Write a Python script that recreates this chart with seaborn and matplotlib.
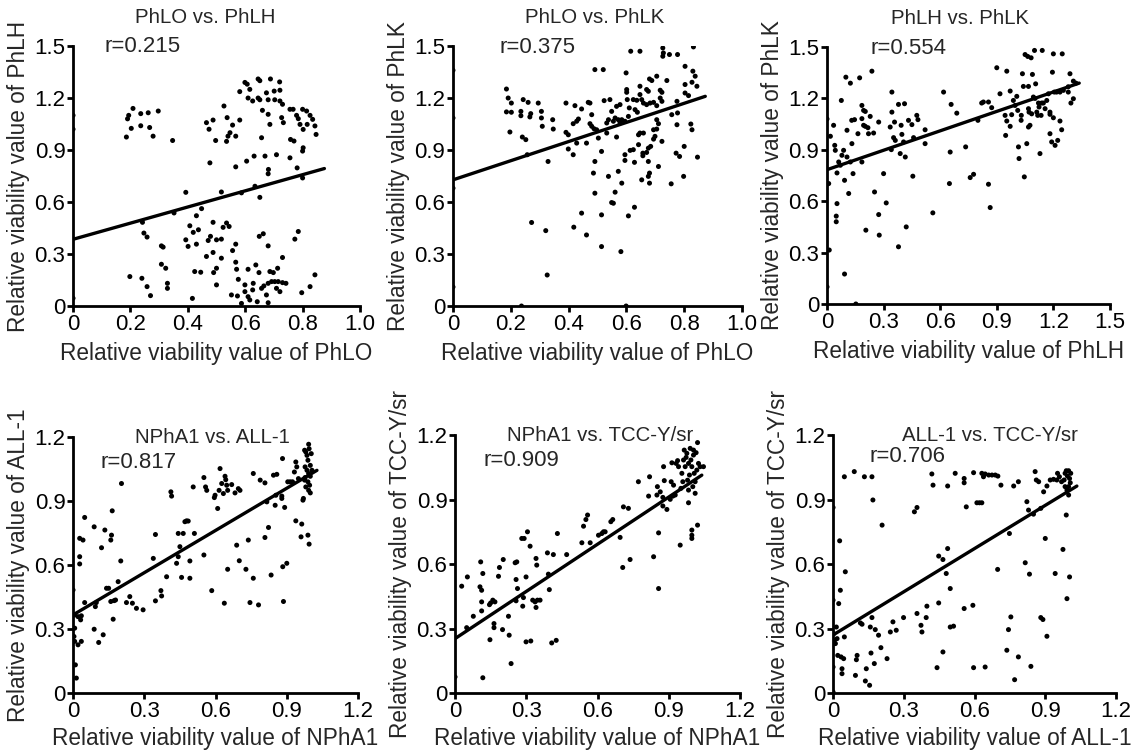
import numpy as np
import pandas as pd
import matplotlib
matplotlib.use("Agg")
import matplotlib.pyplot as plt
import seaborn as sns

sns.set_style("ticks")
plt.rcParams["font.family"] = ["Liberation Sans", "DejaVu Sans"]

# ---- data ----
titles = ["PhLO vs. PhLH", "PhLO vs. PhLK", "PhLH vs. PhLK",
          "NPhA1 vs. ALL-1", "NPhA1 vs. TCC-Y/sr", "ALL-1 vs. TCC-Y/sr"]
r_values = ["r=0.215", "r=0.375", "r=0.554", "r=0.817", "r=0.909", "r=0.706"]
xlabels = ["PhLO", "PhLO", "PhLH", "NPhA1", "NPhA1", "ALL-1"]
ylabels = ["PhLH", "PhLK", "PhLK", "ALL-1", "TCC-Y/sr", "TCC-Y/sr"]

# regression lines: intercept, slope, x end
line_b = [0.385, 0.728, 0.784, 0.366, 0.253, 0.27]
line_m = [0.466, 0.552, 0.378, 0.66, 0.732, 0.67]
line_xend = [0.876, 0.873, 1.337, 1.027, 1.039, 1.034]

xticks_top = [0, 0.2, 0.4, 0.6, 0.8, 1.0]
xtick_labels_top = ["0", "0.2", "0.4", "0.6", "0.8", "1.0"]
ticks_15 = [0, 0.3, 0.6, 0.9, 1.2, 1.5]
tick_labels_15 = ["0", "0.3", "0.6", "0.9", "1.2", "1.5"]
ticks_12 = [0, 0.3, 0.6, 0.9, 1.2]
tick_labels_12 = ["0", "0.3", "0.6", "0.9", "1.2"]

p1_x = [0.0, 0.0, 0.0, 0.186, 0.19, 0.194, 0.209, 0.203, 0.236, 0.236, 0.262, 0.267, 0.279, 0.297, 0.347,
        0.465, 0.474, 0.488, 0.497, 0.477, 0.526, 0.537, 0.556, 0.547, 0.54, 0.535, 0.567, 0.581, 0.567,
        0.605, 0.631, 0.669, 0.709, 0.657, 0.681, 0.68,
        0.599, 0.607, 0.581, 0.616, 0.61, 0.626, 0.645, 0.651, 0.688, 0.72, 0.645, 0.651, 0.674, 0.68,
        0.701, 0.721, 0.703, 0.721, 0.73, 0.66, 0.68, 0.686, 0.727, 0.733, 0.756, 0.767, 0.779, 0.785,
        0.8, 0.814, 0.826, 0.835, 0.816, 0.843, 0.847, 0.802, 0.791, 0.758, 0.77, 0.802, 0.8, 0.756,
        0.781, 0.8,
        0.393, 0.517, 0.587, 0.634, 0.651, 0.242, 0.352, 0.43, 0.448, 0.247, 0.258, 0.308, 0.314, 0.308,
        0.323, 0.407, 0.419, 0.437, 0.393, 0.401, 0.43, 0.488, 0.471, 0.479, 0.5, 0.517, 0.523, 0.535,
        0.544, 0.567, 0.556, 0.465, 0.488, 0.517, 0.5, 0.49, 0.424, 0.445, 0.567, 0.57, 0.5, 0.576,
        0.552, 0.573, 0.587, 0.599, 0.599, 0.61, 0.616, 0.626, 0.628, 0.642, 0.61, 0.637, 0.648, 0.649,
        0.663, 0.68, 0.657, 0.665, 0.68, 0.674, 0.68, 0.686, 0.698, 0.713, 0.73, 0.692, 0.703, 0.715,
        0.73, 0.742, 0.709, 0.721, 0.773, 0.785, 0.843, 0.826, 0.797, 0.198, 0.24, 0.258, 0.27, 0.329,
        0.329, 0.416]
p1_y = [1.1, 1.02, 0.045, 0.975, 1.08, 1.1, 1.14, 1.025, 1.11, 1.04, 1.115, 1.03, 0.98, 1.125, 0.955,
        1.058, 1.02, 1.073, 0.955, 0.826, 1.154, 1.087, 1.044, 1.0, 0.98, 0.95, 0.98, 1.073, 0.803,
        0.836, 0.865, 0.865, 0.873, 0.971, 0.788, 0.763,
        1.29, 1.28, 1.237, 1.25, 1.2, 1.183, 1.31, 1.3, 1.31, 1.293, 1.2, 1.19, 1.23, 1.19,
        1.24, 1.245, 1.19, 1.183, 1.164, 1.129, 1.106, 1.048, 1.087, 1.058, 1.135, 1.135, 1.1, 1.081,
        1.135, 1.125, 1.1, 1.077, 1.048, 1.039, 0.99, 1.019, 1.048, 0.961, 0.952, 0.913, 0.894, 0.855,
        0.797, 0.739,
        0.656, 0.658, 0.653, 0.691, 0.627, 0.483, 0.537, 0.521, 0.562, 0.421, 0.398, 0.347, 0.34, 0.241,
        0.218, 0.463, 0.425, 0.44, 0.382, 0.344, 0.357, 0.483, 0.378, 0.402, 0.382, 0.386, 0.454, 0.479,
        0.459, 0.357, 0.32, 0.286, 0.309, 0.276, 0.218, 0.193, 0.199, 0.195, 0.253, 0.212, 0.122, 0.154,
        0.064, 0.058, 0.015, 0.122, 0.083, 0.054, 0.035, 0.093, 0.131, 0.025, 0.212, 0.237, 0.193, 0.402,
        0.417, 0.347, 0.102, 0.116, 0.131, 0.064, 0.019, 0.199, 0.193, 0.218, 0.28, 0.141, 0.141, 0.141,
        0.135, 0.131, 0.102, 0.083, 0.386, 0.43, 0.18, 0.112, 0.077, 0.17, 0.16, 0.112, 0.06, 0.131,
        0.102, 0.044]

p2_x = [0.185, 0.191, 0.202, 0.185, 0.202, 0.197, 0.235, 0.235, 0.243, 0.26, 0.266, 0.269, 0.295, 0.306,
        0.306, 0.309, 0.345, 0.347, 0.24, 0.252, 0.257, 0.329, 0.391, 0.391, 0.399, 0.399, 0.416, 0.422,
        0.416, 0.428, 0.434, 0.428, 0.445, 0.462, 0.468, 0.474, 0.48, 0.474, 0.48, 0.491, 0.52, 0.488,
        0.497, 0.503, 0.514, 0.491, 0.486, 0.523, 0.532, 0.538, 0.543, 0.549, 0.555, 0.561, 0.532, 0.566,
        0.566, 0.578, 0.572, 0.584, 0.578, 0.595, 0.599, 0.601, 0.601, 0.603, 0.61, 0.607, 0.615, 0.647,
        0.624, 0.636, 0.63, 0.638, 0.647, 0.647, 0.653, 0.659, 0.67, 0.67, 0.676, 0.68, 0.688, 0.682,
        0.694, 0.705, 0.705, 0.717, 0.723, 0.717, 0.723, 0.74, 0.726, 0.728, 0.726, 0.749, 0.777, 0.832,
        0.803, 0.83, 0.838, 0.827, 0.844, 0.803, 0.803, 0.815, 0.775, 0.757, 0.777, 0.775, 0.823, 0.827,
        0.705, 0.711, 0.705, 0.694, 0.699, 0.723, 0.694, 0.684, 0.676, 0.67, 0.659, 0.647, 0.642, 0.642,
        0.657, 0.657, 0.624, 0.613, 0.628, 0.595, 0.595, 0.676, 0.68, 0.676, 0.68, 0.653, 0.711, 0.772,
        0.784, 0.8, 0.798, 0.846, 0.755, 0.584, 0.572, 0.538, 0.561, 0.549, 0.555, 0.491, 0.514, 0.628,
        0.607, 0.445, 0.418, 0.462, 0.514, 0.581, 0.272, 0.321, 0.326, 0.237, 0.599,
        0.0, 0.0, 0.0, 0.0]
p2_y = [1.252, 1.2, 1.171, 1.12, 1.118, 1.004, 1.123, 1.098, 1.191, 1.175, 1.091, 1.11, 1.171, 1.123,
        1.085, 1.037, 1.075, 1.021, 0.975, 0.96, 0.873, 0.834, 1.171, 1.002, 0.988, 0.906, 0.873, 1.156,
        1.052, 1.066, 1.079, 0.94, 1.137, 0.94, 1.175, 1.171, 1.104, 1.052, 1.037, 1.364, 1.364, 1.023,
        1.017, 0.969, 0.892, 0.834, 0.767, 1.185, 1.056, 1.075, 1.191, 1.123, 1.066, 1.085, 0.998, 0.975,
        1.152, 1.162, 1.075, 1.075, 1.056, 1.066, 1.345, 1.249, 1.233, 1.191, 1.143, 1.094, 1.47, 1.47,
        1.191, 1.187, 1.133, 1.118, 1.268, 1.22, 1.191, 1.171, 1.162, 1.249, 1.239, 1.31, 1.301, 1.171,
        1.175, 1.156, 1.326, 1.245, 1.233, 1.2, 1.181, 1.301, 1.489, 1.46, 1.441, 1.451, 1.451, 1.495,
        1.383, 1.355, 1.326, 1.291, 1.268, 1.278, 1.229, 1.214, 1.181, 1.104, 1.114, 1.046, 1.05, 1.017,
        1.075, 1.052, 1.021, 1.017, 0.979, 0.95, 0.963, 0.921, 0.911, 0.886, 0.998, 0.998, 0.988, 0.931,
        0.882, 0.867, 0.902, 0.898, 0.829, 0.873, 0.84, 0.834, 0.767, 0.748, 0.709, 0.728, 0.805, 0.882,
        0.863, 0.921, 0.748, 0.859, 0.705, 0.709, 0.777, 0.748, 0.657, 0.597, 0.593, 0.651, 0.526, 0.57,
        0.52, 0.536, 0.455, 0.41, 0.343, 0.314, 0.482, 0.435, 0.179, 0.0, 0.0,
        1.36, 1.085, 0.68, 0.11]

p3_x = [0.0, 0.0, 0.009, 0.012, 0.0, 0.018, 0.035, 0.041, 0.044, 0.053, 0.053, 0.049, 0.049, 0.062, 0.071,
        0.076, 0.079, 0.088, 0.093, 0.093, 0.1, 0.106, 0.106, 0.115, 0.124, 0.124, 0.131, 0.132, 0.138,
        0.146, 0.153, 0.164, 0.173, 0.185, 0.194, 0.185, 0.194, 0.185, 0.203, 0.203, 0.217, 0.22, 0.229,
        0.238, 0.247, 0.252, 0.206, 0.274, 0.277, 0.274, 0.3, 0.314, 0.335, 0.341, 0.344, 0.344, 0.358,
        0.353, 0.362, 0.379, 0.379, 0.388, 0.393, 0.397, 0.406, 0.411, 0.415, 0.42, 0.432, 0.45, 0.455,
        0.459, 0.476, 0.482, 0.52, 0.52, 0.561, 0.618, 0.649, 0.653, 0.658, 0.688, 0.735, 0.759, 0.777,
        0.8, 0.82, 0.829, 0.856, 0.856, 0.865, 0.873, 0.9, 0.917, 0.953, 0.944, 0.953, 0.947, 0.971,
        0.971, 0.979, 0.988, 0.997, 1.006, 1.011, 1.015, 1.018, 1.029, 1.03, 1.036, 1.041, 1.046, 1.05,
        1.059, 1.064, 1.068, 1.068, 1.068, 1.071, 1.076, 1.082, 1.085, 1.089, 1.094, 1.1, 1.103, 1.106,
        1.112, 1.117, 1.121, 1.124, 1.129, 1.135, 1.138, 1.141, 1.147, 1.156, 1.165, 1.174, 1.182, 1.182,
        1.182, 1.191, 1.195, 1.2, 1.205, 1.2, 1.209, 1.217, 1.223, 1.235, 1.235, 1.244, 1.247, 1.253,
        1.279, 1.288, 1.293, 1.306, 1.306, 1.32, 1.279]
p3_y = [1.08, 0.7, 0.703, 0.315, 0.1, 0.979, 1.043, 0.926, 0.897, 0.765, 0.586, 0.513, 0.48, 0.829, 0.81,
        1.188, 0.868, 0.897, 0.722, 0.175, 1.324, 1.014, 0.858, 0.645, 0.829, 1.289, 1.072, 0.936, 0.761,
        1.076, 0.0, 0.994, 1.32, 1.159, 1.13, 1.082, 1.043, 0.829, 1.037, 1.124, 1.029, 0.994, 1.095,
        1.359, 0.998, 0.654, 0.431, 0.522, 0.402, 1.062, 0.761, 0.59, 1.033, 0.901, 1.237, 1.12, 1.062,
        0.971, 0.955, 1.165, 0.334, 0.878, 1.043, 0.99, 0.946, 1.169, 0.858, 0.45, 1.072, 1.047, 0.746,
        0.971, 1.101, 1.076, 1.017, 0.936, 0.532, 1.237, 0.703, 0.887, 1.165, 1.114, 0.917, 0.738, 0.757,
        1.072, 1.173, 1.179, 1.179, 0.699, 0.563, 1.146, 1.379, 1.227, 1.359, 1.101, 1.068, 0.984, 1.243,
        1.037, 1.105, 1.188, 1.159, 1.212, 1.13, 0.917, 0.849, 1.072, 1.101, 1.344, 1.27, 0.742, 1.456,
        0.936, 1.445, 1.14, 1.033, 1.27, 1.12, 1.043, 1.437, 1.11, 1.34, 1.208, 1.48, 1.2, 1.285,
        1.12, 1.101, 1.173, 1.15, 0.878, 1.101, 1.173, 1.48, 1.173, 1.14, 1.188, 1.227, 1.12, 0.994,
        1.107, 0.946, 1.353, 1.46, 1.237, 1.087, 0.926, 1.237, 0.955, 1.237, 1.068, 1.017, 1.46, 1.247,
        1.237, 1.344, 1.173, 1.198, 1.301, 1.289, 1.268]

p4_x = [0.0, 0.007, 0.007, 0.004, 0.007, 0.01, 0.014, 0.021, 0.021, 0.028, 0.028, 0.028, 0.032, 0.035,
        0.035, 0.042, 0.049, 0.049, 0.089, 0.089, 0.094, 0.098, 0.108, 0.12, 0.127, 0.134, 0.141, 0.15,
        0.159, 0.159, 0.162, 0.165, 0.169, 0.173, 0.179, 0.19, 0.201, 0.204, 0.225, 0.239, 0.25, 0.267,
        0.295, 0.338, 0.347, 0.347, 0.37, 0.373, 0.394, 0.412, 0.415, 0.436, 0.443, 0.443, 0.464, 0.45,
        0.457, 0.471, 0.478, 0.485, 0.492, 0.492, 0.506, 0.511, 0.551, 0.551, 0.558, 0.563, 0.584, 0.595,
        0.598, 0.609, 0.615, 0.619, 0.626, 0.633, 0.637, 0.64, 0.643, 0.647, 0.651, 0.651, 0.668, 0.682,
        0.689, 0.696, 0.703, 0.7, 0.728, 0.738, 0.745, 0.759, 0.759, 0.781, 0.788, 0.808, 0.808, 0.816,
        0.823, 0.834, 0.844, 0.851, 0.854, 0.858, 0.879, 0.879, 0.883, 0.886, 0.882, 0.891, 0.9, 0.904,
        0.914, 0.924, 0.932, 0.938, 0.938, 0.942, 0.949, 0.96, 0.963, 0.968, 0.97,
        0.975, 0.98, 0.985, 0.992, 0.994, 0.989, 0.999, 0.977, 0.985, 0.992, 0.999, 0.977, 0.989, 0.996,
        0.98, 0.992, 0.999, 0.975, 1.006, 1.003, 0.989, 0.994]
p4_y = [0.483, 0.366, 0.304, 0.265, 0.242, 0.132, 0.07, 0.358, 0.226, 0.725, 0.639, 0.605, 0.343, 0.362,
        0.242, 0.717, 0.823, 0.424, 0.779, 0.299, 0.405, 0.424, 0.237, 0.681, 0.273, 0.764, 0.491, 0.491,
        0.717, 0.429, 0.74, 0.854, 0.346, 0.433, 0.436, 0.522, 0.619, 0.982, 0.424, 0.452, 0.421, 0.397,
        0.39, 0.631, 0.432, 0.743, 0.48, 0.455, 0.545, 0.943, 0.923, 0.608, 0.639, 0.748, 0.748, 0.686,
        0.542, 0.803, 0.807, 0.806, 0.619, 0.538, 0.966, 0.748, 0.647, 1.01, 0.966, 0.95, 0.48, 0.916,
        0.927, 0.865, 0.95, 1.052, 0.982, 0.935, 0.421, 1.016, 1.0, 0.974, 0.95, 0.58, 0.977, 0.938,
        0.693, 0.958, 0.95, 0.62, 0.58, 0.717, 0.424, 1.029, 0.538, 0.413, 0.998, 0.985, 0.729, 0.896,
        0.776, 0.553, 1.021, 0.88, 0.927, 1.025, 0.923, 0.912, 0.592, 0.429, 1.099, 0.87, 0.608, 0.99,
        0.99, 0.99, 1.036, 1.083, 0.807, 1.06, 1.005, 0.732, 0.792, 0.904, 0.912,
        1.138, 1.13, 1.114, 1.166, 1.145, 1.091, 1.067, 1.06, 1.044, 1.029, 1.016, 1.01, 0.99, 0.974,
        0.966, 0.95, 0.938, 0.998, 1.044, 1.122, 0.74, 0.698]

p5_x = [0.0, 0.028, 0.049, 0.052, 0.077, 0.108, 0.105, 0.112, 0.117, 0.112, 0.112, 0.117, 0.145, 0.147,
        0.15, 0.159, 0.168, 0.164, 0.164, 0.183, 0.187, 0.2, 0.203, 0.225, 0.228, 0.236, 0.253, 0.26,
        0.257, 0.263, 0.257, 0.281, 0.291, 0.285, 0.288, 0.299, 0.299, 0.305, 0.316, 0.319, 0.327, 0.337,
        0.344, 0.341, 0.347, 0.341, 0.358, 0.389, 0.393, 0.397, 0.407, 0.414, 0.426, 0.431, 0.47, 0.534,
        0.541, 0.551, 0.558, 0.569, 0.604, 0.618, 0.625, 0.632, 0.656, 0.664, 0.695, 0.706, 0.709, 0.73,
        0.737, 0.772, 0.815, 0.819, 0.836, 0.85, 0.852, 0.857, 0.857, 0.864, 0.875, 0.878, 0.881, 0.875,
        0.892, 0.906, 0.91, 0.913, 0.917, 0.92, 0.927, 0.931, 0.937, 0.941, 0.948, 0.951, 0.955, 0.959,
        0.962, 0.965, 0.969, 0.976, 0.979, 0.983, 0.983, 0.987, 0.99, 0.993, 0.997, 0.997, 0.997, 0.997,
        1.001, 1.004, 1.007, 1.011, 1.011, 1.015, 1.018, 1.021, 1.021, 1.025, 1.032, 1.046, 1.004, 0.973,
        0.983]
p5_y = [0.075, 0.497, 0.304, 0.54, 0.357, 0.61, 0.494, 0.478, 0.556, 0.424, 0.382, 0.071, 0.411, 0.248,
        0.419, 0.432, 0.424, 0.323, 0.304, 0.543, 0.584, 0.295, 0.621, 0.357, 0.269, 0.137, 0.606, 0.61,
        0.528, 0.486, 0.429, 0.719, 0.719, 0.404, 0.444, 0.54, 0.238, 0.75, 0.683, 0.242, 0.432, 0.424,
        0.595, 0.626, 0.432, 0.398, 0.432, 0.652, 0.553, 0.481, 0.233, 0.644, 0.245, 0.742, 0.644, 0.699,
        0.776, 0.807, 0.828, 0.699, 0.734, 0.742, 0.75, 0.75, 0.797, 0.807, 0.724, 0.584, 0.866, 0.859,
        0.621, 0.983, 0.916, 1.006, 0.634, 0.921, 0.96, 0.486, 0.745, 0.936, 0.91, 1.053, 0.988, 0.87,
        0.854, 0.901, 0.983, 1.071, 0.916, 0.967, 0.921, 1.068, 1.081, 1.053, 0.688, 0.952, 1.022, 0.983,
        1.084, 1.13, 1.053, 1.115, 0.99, 0.885, 0.944, 1.014, 1.138, 1.084, 1.053, 0.758, 0.734, 0.719,
        0.96, 1.107, 1.022, 0.983, 0.929, 1.118, 1.037, 1.165, 0.781, 1.068, 1.053, 1.053, 1.13, 1.096,
        1.068]

p6_x = [0.0, 0.0, 0.0, 0.0, 0.003, 0.006, 0.01, 0.014, 0.017, 0.02, 0.024, 0.028, 0.031, 0.034, 0.038,
        0.038, 0.045, 0.048, 0.048, 0.052, 0.09, 0.095, 0.099, 0.102, 0.116, 0.123, 0.133, 0.137, 0.141,
        0.155, 0.158, 0.161, 0.165, 0.165, 0.169, 0.175, 0.179, 0.193, 0.203, 0.208, 0.229, 0.243, 0.254,
        0.268, 0.299, 0.345, 0.356, 0.356, 0.373, 0.377, 0.395, 0.398, 0.419, 0.424, 0.441, 0.448, 0.448,
        0.466, 0.466, 0.48, 0.486, 0.486, 0.497, 0.497, 0.511, 0.518, 0.556, 0.556, 0.556, 0.565, 0.593,
        0.596, 0.596, 0.61, 0.621, 0.631, 0.631, 0.638, 0.645, 0.66, 0.674, 0.688, 0.699, 0.645, 0.698,
        0.712, 0.748, 0.737, 0.744, 0.754, 0.766, 0.77, 0.786, 0.786, 0.815, 0.822, 0.829, 0.833, 0.839,
        0.85, 0.857, 0.862, 0.872, 0.881, 0.881, 0.89, 0.893, 0.9, 0.907, 0.907, 0.921, 0.935, 0.942,
        0.949, 0.952, 0.96, 0.969, 0.975, 0.98, 0.984, 0.989, 0.989, 0.992, 0.992, 0.994, 0.999, 0.999,
        1.003, 1.003, 1.006, 1.008, 0.984, 0.999]
p6_y = [0.863, 0.432, 0.121, 0.005, 0.276, 0.245, 0.23, 0.307, 0.253, 0.175, 0.416, 0.708, 0.478, 0.168,
        0.113, 0.09, 0.16, 0.261, 1.006, 0.564, 1.03, 0.082, 0.155, 0.175, 0.326, 0.32, 1.006, 0.056,
        0.113, 0.036, 0.307, 0.186, 0.351, 1.006, 0.898, 0.137, 0.295, 0.269, 0.211, 0.781, 0.16, 0.284,
        0.331, 0.292, 0.351, 0.843, 0.863, 0.37, 0.315, 0.284, 0.351, 0.404, 1.019, 0.967, 0.118, 0.637,
        0.419, 0.621, 0.191, 0.556, 0.672, 0.963, 0.486, 0.307, 0.311, 1.022, 0.998, 0.978, 0.393, 0.866,
        0.408, 0.118, 1.025, 0.885, 0.885, 0.885, 1.022, 1.006, 1.019, 1.014, 1.014, 1.014, 1.009, 0.121,
        0.575, 0.967, 0.742, 0.199, 0.295, 0.354, 0.963, 0.062, 0.983, 0.168, 0.606, 0.89, 0.851, 0.553,
        0.124, 0.832, 1.03, 0.991, 0.983, 0.859, 0.351, 0.342, 0.936, 0.719, 0.264, 0.963, 0.991, 0.994,
        0.556, 0.991, 1.022, 1.006, 0.983, 0.668, 0.991, 1.022, 1.034, 0.828, 0.944, 0.439, 1.009, 1.034,
        0.921, 0.54, 0.998, 0.978, 1.022, 0.96, 0.96]

xs = [p1_x, p2_x, p3_x, p4_x, p5_x, p6_x]
ys = [p1_y, p2_y, p3_y, p4_y, p5_y, p6_y]

# ---- layout (figure fractions) ----
rects = [
    [0.064, 0.5925, 0.2515, 0.3462],
    [0.397, 0.5925, 0.2533, 0.3462],
    [0.7248, 0.5952, 0.2480, 0.3422],
    [0.064, 0.0772, 0.2498, 0.3409],
    [0.3988, 0.0772, 0.2498, 0.3435],
    [0.7301, 0.0772, 0.2480, 0.3435],
]
xlims = [1.0, 1.0, 1.5, 1.2, 1.2, 1.2]
ylims = [1.5, 1.5, 1.5, 1.2, 1.2, 1.2]
title_x = [0.46, 0.49, 0.47, 0.49, 0.51, 0.555]
title_y = [1.11, 1.11, 1.11, 1.0, 1.0, 1.0]
r_pos = [(0.11, 1.0), (0.16, 0.995), (0.155, 0.995), (0.095, 0.90), (0.10, 0.90), (0.13, 0.915)]
xlabel_pad = [5, 5, 5, 4, 4, 4]

fig = plt.figure(figsize=(11.41, 7.51), dpi=100)

for i in range(6):
    ax = fig.add_axes(rects[i])
    df = pd.DataFrame({"x": xs[i], "y": ys[i]})
    sns.scatterplot(data=df, x="x", y="y", ax=ax, color="black", s=13,
                    edgecolor="none", linewidth=0)
    lx = [0, line_xend[i]]
    ly = [line_b[i] + line_m[i] * v for v in lx]
    sns.lineplot(x=lx, y=ly, ax=ax, color="black", linewidth=2.4)

    ax.set_xlim(0, xlims[i])
    ax.set_ylim(0, ylims[i])
    if xlims[i] == 1.0:
        ax.set_xticks(xticks_top)
        ax.set_xticklabels(xtick_labels_top)
    elif xlims[i] == 1.5:
        ax.set_xticks(ticks_15)
        ax.set_xticklabels(tick_labels_15)
    else:
        ax.set_xticks(ticks_12)
        ax.set_xticklabels(tick_labels_12)
    if ylims[i] == 1.5:
        ax.set_yticks(ticks_15)
        ax.set_yticklabels(tick_labels_15)
    else:
        ax.set_yticks(ticks_12)
        ax.set_yticklabels(tick_labels_12)

    sns.despine(ax=ax)
    for sp in ["left", "bottom"]:
        ax.spines[sp].set_linewidth(2.0)
        ax.spines[sp].set_color("black")
    ax.tick_params(direction="out", length=4.5, width=2.0, labelsize=16,
                   pad=1, colors="black")

    ax.set_xlabel("Relative viability value of " + xlabels[i], fontsize=16.3,
                  labelpad=xlabel_pad[i])
    ax.set_ylabel("Relative viability value of " + ylabels[i], fontsize=16.3, labelpad=3)

    ax.text(title_x[i], title_y[i], titles[i], transform=ax.transAxes,
            ha="center", va="center", fontsize=14.7)
    ax.text(r_pos[i][0], r_pos[i][1], r_values[i], transform=ax.transAxes,
            ha="left", va="center", fontsize=16)

fig.savefig("out.png", dpi=100)
